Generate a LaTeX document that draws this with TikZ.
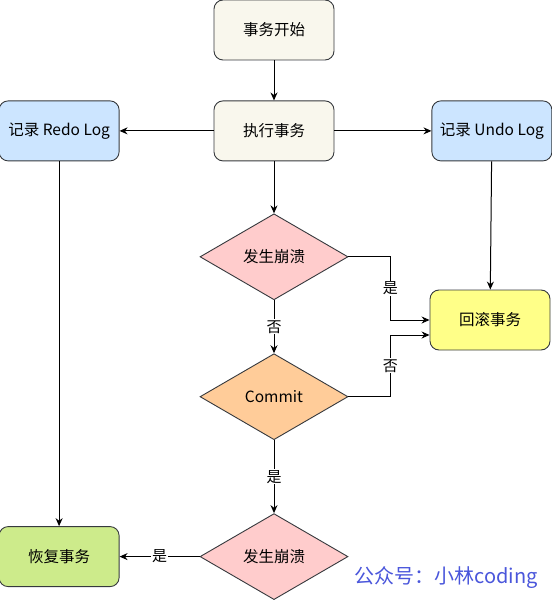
\documentclass[tikz,border=0pt]{standalone}
\usepackage{fontspec}
\setmainfont{Noto Sans CJK SC}
\usepackage{xcolor}
\usetikzlibrary{shapes.geometric,arrows.meta,positioning}

\definecolor{boxline}{HTML}{36393D}
\definecolor{plainfill}{HTML}{F9F7ED}
\definecolor{logfill}{HTML}{CCE5FF}
\definecolor{crashfill}{HTML}{FFCCCC}
\definecolor{commitfill}{HTML}{FFCC99}
\definecolor{rollfill}{HTML}{FFFF88}
\definecolor{recoverfill}{HTML}{CDEB8B}
\definecolor{markblue}{HTML}{4A56DB}

\begin{document}
\begin{tikzpicture}[
    x=1pt, y=-1pt,
    node distance=40pt,
    stepbox/.style={rectangle, draw=boxline, line width=0.9pt, rounded corners=9pt,
        minimum width=120pt, minimum height=60pt, inner sep=0pt, text centered,
        font=\fontsize{15.5}{18}\selectfont},
    check/.style={diamond, draw=boxline, line width=0.9pt, minimum width=148pt,
        minimum height=86pt, inner sep=0pt, text centered,
        font=\fontsize{15.5}{18}\selectfont},
    msg/.style={-{Stealth[length=8pt,width=7pt]}, line width=1pt},
    tag/.style={fill=white, inner sep=1pt, font=\fontsize{15}{17}\selectfont}
]
    \useasboundingbox (0,0) rectangle (551,601);

    % Boxes
    \node[stepbox, fill=plainfill] (start) at (274,30) {事务开始};
    \node[stepbox, fill=plainfill, below=40pt of start] (exec) {执行事务};
    \node[stepbox, fill=logfill, left=94pt of exec] (redo) {记录 Redo Log};
    \node[stepbox, fill=logfill, right=97pt of exec] (undo) {记录 Undo Log};
    \node[stepbox, fill=rollfill] (rollback) at (490,320) {回滚事务};

    % Decisions
    \node[check, fill=crashfill, below=52pt of exec] (crash1) {发生崩溃};
    \node[check, fill=commitfill, below=53pt of crash1] (commit) {Commit};
    \node[check, fill=crashfill, below=73pt of commit] (crash2) {发生崩溃};
    \node[stepbox, fill=recoverfill, left=80pt of crash2] (recover) {恢复事务};

    % Arrows
    \draw[msg] (start) -- (exec);
    \draw[msg] (exec) -- (redo);
    \draw[msg] (exec) -- (undo);
    \draw[msg] (exec) -- (crash1);
    \draw[msg] (redo) -- (recover);
    \draw[msg] (undo) -- (rollback);

    \draw[msg] (crash1) -- (commit) node[midway, tag] {否};
    \draw[msg] (crash1.east) -- ++(42,0) |- (rollback.west)
        node[pos=0.25, tag] {是};
    \draw[msg] (commit.east) -- ++(42,0) |- ([yshift=-15pt]rollback.west)
        node[pos=0.25, tag] {否};
    \draw[msg] (commit) -- (crash2) node[midway, tag] {是};
    \draw[msg] (crash2) -- (recover) node[midway, tag] {是};

    % Watermark
    \node[text=markblue, font=\fontsize{20}{22}\selectfont] (mark) at (446,578) {公众号：小林coding};
\end{tikzpicture}
\end{document}
